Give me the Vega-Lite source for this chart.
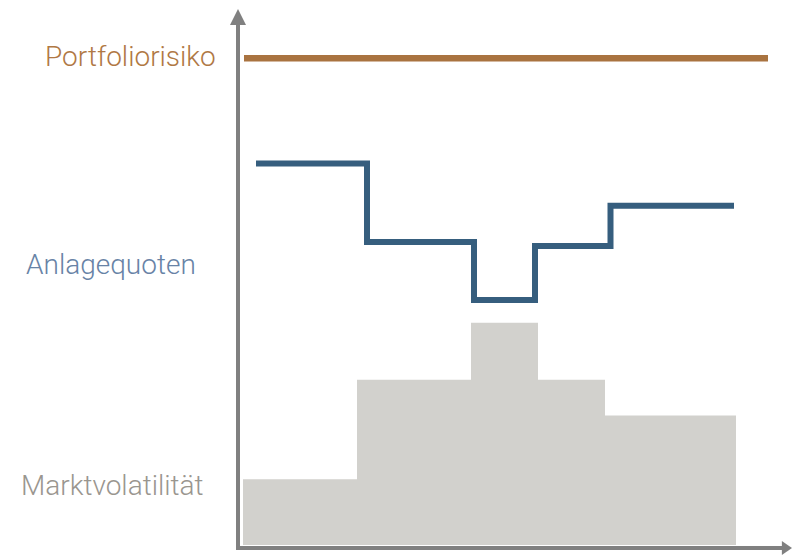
{
  "$schema": "https://vega.github.io/schema/vega-lite/v6.json",
  "width": 793,
  "height": 555,
  "autosize": {"type": "fit", "contains": "padding"},
  "padding": 0,
  "background": "white",
  "config": {"view": {"stroke": null}},
  "datasets": {
    "volatility": [
      {"start": 5, "end": 119, "level": 69},
      {"start": 119, "end": 233, "level": 169},
      {"start": 233, "end": 300, "level": 226},
      {"start": 300, "end": 367, "level": 169},
      {"start": 367, "end": 498, "level": 133}
    ],
    "allocation": [
      {"t": 18, "quote": 386},
      {"t": 129, "quote": 307},
      {"t": 236, "quote": 249},
      {"t": 297, "quote": 303},
      {"t": 372.5, "quote": 343.5},
      {"t": 496, "quote": 343.5}
    ],
    "risk": [{"start": 6, "end": 530, "level": 491.5}],
    "axes": [
      {"x1": 0, "x2": 0, "y1": -2, "y2": 525},
      {"x1": -2, "x2": 546, "y1": 0, "y2": 0}
    ],
    "labels": [
      {"x": -193, "y": 484, "label": "Portfoliorisiko", "series": "risk"},
      {"x": -212, "y": 275, "label": "Anlagequoten", "series": "allocation"},
      {"x": -217, "y": 53, "label": "Marktvolatilität", "series": "volatility"}
    ]
  },
  "layer": [
    {
      "data": {"name": "volatility"},
      "mark": {"type": "rect", "color": "#D2D1CD"},
      "encoding": {
        "x": {"field": "start", "type": "quantitative", "scale": {"domain": [-238, 555], "nice": false, "zero": false}, "axis": null},
        "x2": {"field": "end"},
        "y": {"field": "level", "type": "quantitative", "scale": {"domain": [-5, 550], "nice": false, "zero": false}, "axis": null},
        "y2": {"datum": 3}
      }
    },
    {
      "data": {"name": "allocation"},
      "mark": {"type": "line", "interpolate": "step-after", "color": "#365E7E", "strokeWidth": 6, "strokeCap": "butt", "strokeJoin": "miter"},
      "encoding": {
        "x": {"field": "t", "type": "quantitative", "scale": {"domain": [-238, 555], "nice": false, "zero": false}, "axis": null},
        "y": {"field": "quote", "type": "quantitative", "scale": {"domain": [-5, 550], "nice": false, "zero": false}, "axis": null}
      }
    },
    {
      "data": {"name": "risk"},
      "mark": {"type": "rule", "color": "#A97340", "strokeWidth": 6.5, "strokeCap": "butt"},
      "encoding": {
        "x": {"field": "start", "type": "quantitative", "scale": {"domain": [-238, 555], "nice": false, "zero": false}, "axis": null},
        "x2": {"field": "end"},
        "y": {"field": "level", "type": "quantitative", "scale": {"domain": [-5, 550], "nice": false, "zero": false}, "axis": null}
      }
    },
    {
      "data": {"name": "axes"},
      "mark": {"type": "rule", "color": "#808080", "strokeWidth": 4, "strokeCap": "butt"},
      "encoding": {
        "x": {"field": "x1", "type": "quantitative", "scale": {"domain": [-238, 555], "nice": false, "zero": false}, "axis": null},
        "x2": {"field": "x2"},
        "y": {"field": "y1", "type": "quantitative", "scale": {"domain": [-5, 550], "nice": false, "zero": false}, "axis": null},
        "y2": {"field": "y2"}
      }
    },
    {
      "data": {"values": [{"x": 0, "y": 533}]},
      "mark": {"type": "point", "shape": "M-1,1L0,-1L1,1Z", "size": 256, "filled": true, "color": "#808080", "opacity": 1, "strokeWidth": 0},
      "encoding": {
        "x": {"field": "x", "type": "quantitative", "scale": {"domain": [-238, 555], "nice": false, "zero": false}, "axis": null},
        "y": {"field": "y", "type": "quantitative", "scale": {"domain": [-5, 550], "nice": false, "zero": false}, "axis": null}
      }
    },
    {
      "data": {"values": [{"x": 547, "y": 0}]},
      "mark": {"type": "point", "shape": "M-0.45,-1L1,0L-0.45,1Z", "size": 196, "filled": true, "color": "#808080", "opacity": 1, "strokeWidth": 0},
      "encoding": {
        "x": {"field": "x", "type": "quantitative", "scale": {"domain": [-238, 555], "nice": false, "zero": false}, "axis": null},
        "y": {"field": "y", "type": "quantitative", "scale": {"domain": [-5, 550], "nice": false, "zero": false}, "axis": null}
      }
    },
    {
      "data": {"name": "labels"},
      "mark": {"type": "text", "align": "left", "baseline": "alphabetic", "font": "Roboto", "fontWeight": 300, "fontSize": 28},
      "encoding": {
        "x": {"field": "x", "type": "quantitative", "scale": {"domain": [-238, 555], "nice": false, "zero": false}, "axis": null},
        "y": {"field": "y", "type": "quantitative", "scale": {"domain": [-5, 550], "nice": false, "zero": false}, "axis": null},
        "text": {"field": "label"},
        "color": {"field": "series", "type": "nominal", "scale": {"domain": ["risk", "allocation", "volatility"], "range": ["#B07844", "#6883A6", "#9A968F"]}, "legend": null}
      }
    }
  ]
}
